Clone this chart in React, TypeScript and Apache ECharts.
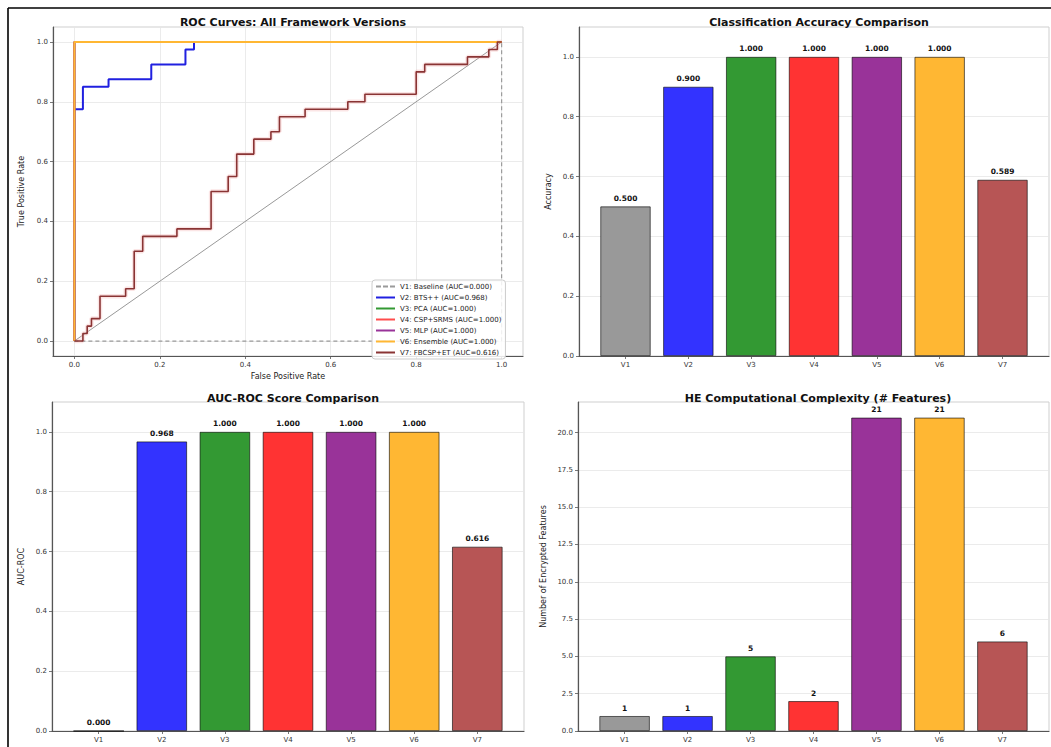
import React, { useEffect, useRef } from "react";
import * as echarts from "echarts";

const versions = ["V1", "V2", "V3", "V4", "V5", "V6", "V7"];
const versionNames = ["Baseline", "BTS++", "PCA", "CSP+SRMS", "MLP", "Ensemble", "FBCSP+ET"];
const accuracy = [0.5, 0.9, 1.0, 1.0, 1.0, 1.0, 0.589];
const aucRoc = [0.0, 0.968, 1.0, 1.0, 1.0, 1.0, 0.616];
const heFeatures = [1, 1, 5, 2, 21, 21, 6];
const barColors = ["#999999", "#3333ff", "#339933", "#ff3333", "#993399", "#ffb733", "#b75555"];
const lineColors = ["#9a9a9a", "#2020e0", "#339933", "#ff4d4d", "#993399", "#ffb733", "#8a3434"];

const rocV1 = [[0, 0], [1, 0], [1, 1]];
const rocV2 = [[0, 0], [0, 0.775], [0.02, 0.775], [0.02, 0.85], [0.08, 0.85], [0.08, 0.875], [0.18, 0.875], [0.18, 0.925], [0.26, 0.925], [0.26, 0.975], [0.28, 0.975], [0.28, 1], [1, 1]];
const rocV3 = [[0, 0], [0, 1], [1, 1]];
const rocV4 = [[0, 0], [0, 1], [1, 1]];
const rocV5 = [[0, 0], [0, 1], [1, 1]];
const rocV6 = [[0, 0], [0, 1], [1, 1]];
const rocV7 = [[0, 0], [0.02, 0], [0.02, 0.025], [0.03, 0.025], [0.03, 0.05], [0.04, 0.05], [0.04, 0.075], [0.06, 0.075], [0.06, 0.15], [0.12, 0.15], [0.12, 0.175], [0.14, 0.175], [0.14, 0.3], [0.16, 0.3], [0.16, 0.35], [0.24, 0.35], [0.24, 0.375], [0.32, 0.375], [0.32, 0.5], [0.36, 0.5], [0.36, 0.55], [0.38, 0.55], [0.38, 0.625], [0.42, 0.625], [0.42, 0.675], [0.46, 0.675], [0.46, 0.7], [0.48, 0.7], [0.48, 0.75], [0.54, 0.75], [0.54, 0.775], [0.64, 0.775], [0.64, 0.8], [0.68, 0.8], [0.68, 0.825], [0.8, 0.825], [0.8, 0.9], [0.82, 0.9], [0.82, 0.925], [0.92, 0.925], [0.92, 0.95], [0.97, 0.95], [0.97, 0.975], [0.99, 0.975], [0.99, 1], [1, 1]];
const rocDiagonal = [[0, 0], [1, 1]];
const rocCurves = [rocV1, rocV2, rocV3, rocV4, rocV5, rocV6, rocV7];

const rocTicks = [0, 0.2, 0.4, 0.6, 0.8, 1.0];
const scoreTicks = [0, 0.2, 0.4, 0.6, 0.8, 1.0];
const featureTicks = [0, 2.5, 5, 7.5, 10, 12.5, 15, 17.5, 20];
const barPositions = [0, 1, 2, 3, 4, 5, 6];

const FONT = "DejaVu Sans";

const titles = [
  { text: "ROC Curves: All Framework Versions", cx: 288, top: 12 },
  { text: "Classification Accuracy Comparison", cx: 814, top: 12 },
  { text: "AUC-ROC Score Comparison", cx: 288, top: 388 },
  { text: "HE Computational Complexity (# Features)", cx: 813, top: 388 },
];

const DASH_ICON = "path://M0,0h5v2h-5z M7,0h5v2h-5z M14,0h5v2h-5z";

function App() {
  const ref = useRef<HTMLDivElement>(null);

  useEffect(() => {
    if (!ref.current) return;
    const chart = echarts.init(ref.current, undefined, { renderer: "svg" });

    const grids = [
      { left: 53, top: 27, width: 470, height: 329 },
      { left: 579, top: 27, width: 470, height: 329 },
      { left: 52, top: 402, width: 472, height: 329 },
      { left: 578, top: 402, width: 471, height: 329 },
    ].map((g) => ({ ...g, show: true, borderColor: "#cfcfcf", borderWidth: 1, backgroundColor: "#fff" }));

    const tickLabel = { fontFamily: FONT, fontSize: 7, color: "#333", margin: 5 };
    const axisLineDark = { show: true, onZero: false, lineStyle: { color: "#555", width: 1.2 } };
    const tickStyle = { show: true, length: 3, lineStyle: { color: "#555", width: 0.8 } };
    const splitStyle = { show: true, lineStyle: { color: "#e6e6e6", width: 0.8 } };
    const nameStyle = { fontFamily: FONT, fontSize: 8, color: "#222" };

    const barXAxis = (gi: number) => ({
      type: "value",
      gridIndex: gi,
      min: -0.74,
      max: 6.74,
      axisLine: axisLineDark,
      axisTick: { ...tickStyle, customValues: barPositions },
      axisLabel: { ...tickLabel, customValues: barPositions, formatter: (v: number) => versions[Math.round(v)] ?? "" },
      splitLine: { show: false },
    });

    const scoreYAxis = (gi: number, name: string, max: number, ticks: number[], gap: number) => ({
      type: "value",
      gridIndex: gi,
      min: 0,
      max,
      name,
      nameLocation: "middle",
      nameGap: gap,
      nameTextStyle: nameStyle,
      axisLine: axisLineDark,
      axisTick: { ...tickStyle, customValues: ticks },
      axisLabel: { ...tickLabel, customValues: ticks, formatter: (v: number) => v.toFixed(1) },
      splitLine: splitStyle,
    });

    const xAxis = [
      {
        type: "value",
        gridIndex: 0,
        min: -0.05,
        max: 1.05,
        name: "False Positive Rate",
        nameLocation: "middle",
        nameGap: 16,
        nameTextStyle: nameStyle,
        axisLine: axisLineDark,
        axisTick: { ...tickStyle, customValues: rocTicks },
        axisLabel: { ...tickLabel, customValues: rocTicks, formatter: (v: number) => v.toFixed(1) },
        splitLine: splitStyle,
      },
      barXAxis(1),
      barXAxis(2),
      barXAxis(3),
    ];

    const yAxis = [
      {
        type: "value",
        gridIndex: 0,
        min: -0.05,
        max: 1.05,
        name: "True Positive Rate",
        nameLocation: "middle",
        nameGap: 28,
        nameTextStyle: nameStyle,
        axisLine: axisLineDark,
        axisTick: { ...tickStyle, customValues: rocTicks },
        axisLabel: { ...tickLabel, customValues: rocTicks, formatter: (v: number) => v.toFixed(1) },
        splitLine: splitStyle,
      },
      scoreYAxis(1, "Accuracy", 1.1, scoreTicks, 27),
      scoreYAxis(2, "AUC-ROC", 1.1, scoreTicks, 27),
      scoreYAxis(3, "Number of Encrypted Features", 22.05, featureTicks, 31),
    ];

    const legendNames = versions.map(
      (v, i) => `${v}: ${versionNames[i]} (AUC=${aucRoc[i].toFixed(3)})`
    );

    const rocSeries: any[] = [
      {
        type: "line",
        name: "diagonal",
        xAxisIndex: 0,
        yAxisIndex: 0,
        data: rocDiagonal,
        symbol: "none",
        lineStyle: { color: "#8c8c8c", width: 0.9 },
        silent: true,
      },
      {
        type: "line",
        name: "halo",
        xAxisIndex: 0,
        yAxisIndex: 0,
        data: rocV7,
        symbol: "none",
        lineStyle: { color: "rgba(240,160,160,0.28)", width: 4.5 },
        silent: true,
      },
    ];
    rocCurves.forEach((curve, i) => {
      rocSeries.push({
        type: "line",
        name: legendNames[i],
        xAxisIndex: 0,
        yAxisIndex: 0,
        data: curve,
        symbol: "none",
        lineStyle: {
          color: lineColors[i],
          width: i === 0 ? 1.2 : i === 6 ? 1.6 : 2,
          type: i === 0 ? [4, 3] : "solid",
        },
        itemStyle: { color: lineColors[i] },
      });
    });

    const barSeries = (gi: number, values: number[], digits: number) => ({
      type: "bar",
      xAxisIndex: gi,
      yAxisIndex: gi,
      barWidth: "80%",
      data: values.map((v, i) => ({
        value: [barPositions[i], v],
        itemStyle: { color: barColors[i], borderColor: "rgba(0,0,0,0.75)", borderWidth: 0.8 },
      })),
      label: {
        show: true,
        position: "top",
        distance: 4,
        fontFamily: FONT,
        fontSize: 7.5,
        fontWeight: "bold",
        color: "#111",
        formatter: (p: any) => Number(p.value[1]).toFixed(digits),
      },
    });

    chart.setOption({
      animation: false,
      backgroundColor: "#fff",
      title: titles.map((t) => ({
        text: t.text,
        left: t.cx,
        top: t.top,
        textAlign: "center",
        textStyle: { fontFamily: FONT, fontSize: 11, fontWeight: "bold", color: "#111" },
      })),
      grid: grids,
      xAxis,
      yAxis,
      legend: {
        data: legendNames.map((n, i) => ({ name: n, icon: i === 0 ? DASH_ICON : "rect" })),
        orient: "vertical",
        left: 372,
        top: 280,
        itemWidth: 19,
        itemHeight: 2,
        itemGap: 4,
        padding: [3, 4],
        backgroundColor: "rgba(255,255,255,0.85)",
        borderColor: "#cccccc",
        borderWidth: 1,
        borderRadius: 3,
        textStyle: { fontFamily: FONT, fontSize: 7, color: "#222", lineHeight: 6 },
        selectedMode: false,
      },
      series: [
        ...rocSeries,
        barSeries(1, accuracy, 3),
        barSeries(2, aucRoc, 3),
        barSeries(3, heFeatures, 0),
      ],
      graphic: [
        { type: "line", shape: { x1: 8, y1: 8, x2: 1051, y2: 8 }, style: { stroke: "#000", lineWidth: 1.6 }, z: 100 },
        { type: "line", shape: { x1: 8, y1: 8, x2: 8, y2: 747 }, style: { stroke: "#000", lineWidth: 1.6 }, z: 100 },
      ],
    });

    return () => chart.dispose();
  }, []);

  return (
    <div
      ref={ref}
      style={{ position: "fixed", left: 0, top: 0, width: 1051, height: 747, background: "#fff" }}
    />
  );
}

export default App;
